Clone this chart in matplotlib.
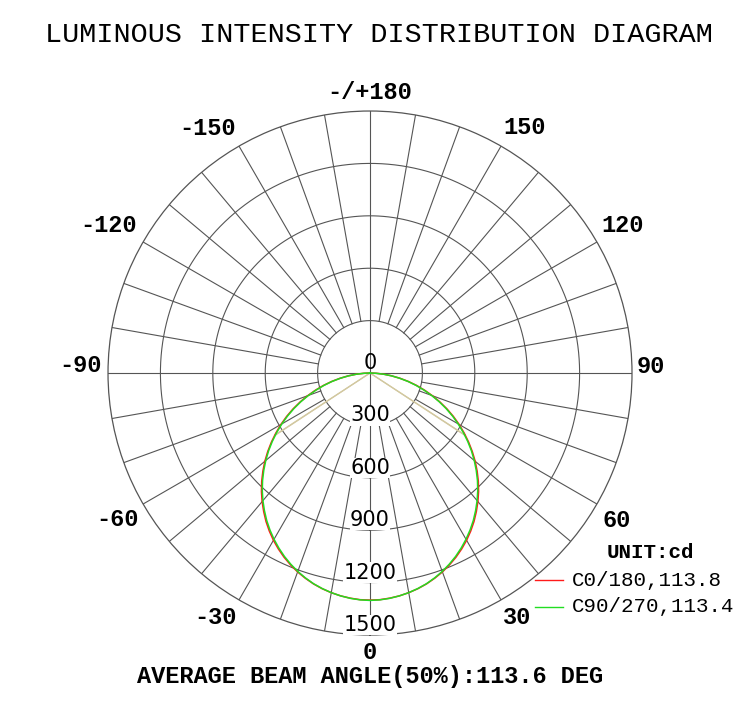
import numpy as np
import matplotlib
matplotlib.use('Agg')
import matplotlib.pyplot as plt
from matplotlib.lines import Line2D

# intensity (cd) vs gamma angle (deg), curves are symmetric about 0
gamma = [0, 2.5, 5, 7.5, 10, 12.5, 15, 17.5, 20, 22.5, 25, 27.5, 30, 32.5, 35, 37.5,
         40, 42.5, 45, 47.5, 50, 52.5, 55, 57.5, 60, 62.5, 65, 67.5, 70, 72.5, 75,
         77.5, 80, 82.5, 85, 87.5, 90]
c0_180 = [1300, 1299, 1294, 1287, 1277, 1265, 1250, 1232, 1212, 1189, 1164, 1136, 1106,
          1073, 1038, 1000, 961, 920, 877, 832, 786, 738, 689, 639, 589, 538, 486, 433,
          380, 328, 277, 226, 175, 126, 80, 35, 0]
c90_270 = [1302, 1300, 1295, 1287, 1277, 1264, 1249, 1230, 1209, 1185, 1159, 1130, 1099,
           1066, 1031, 993, 954, 913, 870, 825, 779, 732, 683, 633, 583, 532, 480, 428,
           375, 323, 272, 222, 172, 124, 78, 34, 0]
beam_angles = [113.8, 113.4]
series_names = ["C0/180", "C90/270"]
series_colors = ["#ff1a1a", "#22dd22"]
avg_beam = 113.6

ring_values = [300, 600, 900, 1200, 1500]
angle_labels = ["0", "30", "60", "90", "120", "150", "-/+180",
                "-150", "-120", "-90", "-60", "-30"]
# label placement (deg, radius in px from centre)
label_pos = [(0, 279), (31.1, 285), (59.1, 287), (91.4, 281), (120.3, 293), (147.7, 290),
             (180, 281), (-146.4, 294), (-119.5, 300), (-91.4, 290), (-59.8, 292), (-32.4, 289)]

mono = "Liberation Mono"
grid_col = "#555555"
R_PX = 262.0

fig = plt.figure(figsize=(7.5, 7.08), dpi=100)
ax = fig.add_axes([0.144, 0.1031, 0.6987, 0.7401], projection='polar')
ax.set_theta_zero_location('S')
ax.set_theta_direction(1)
ax.set_ylim(0, 1500)
ax.grid(False)
ax.set_xticks([])
ax.set_yticks([])
ax.spines['polar'].set_color(grid_col)
ax.spines['polar'].set_linewidth(0.9)

# rings
tt = np.linspace(0, 2 * np.pi, 400)
for r in ring_values[:-1]:
    ax.plot(tt, np.full_like(tt, r), color=grid_col, lw=0.8, zorder=1)

# spokes every 10 deg, the four main ones go through the centre
for a in range(0, 360, 10):
    r0 = 0 if a % 90 == 0 else ring_values[0]
    ax.plot([np.radians(a)] * 2, [r0, 1500], color=grid_col, lw=0.8, zorder=1)

# half-beam lines
g = np.array(gamma)
for ba, vals in zip(beam_angles, [c0_180, c90_270]):
    rr = np.interp(ba / 2, g, vals)
    for s in (-1, 1):
        ax.plot([0, np.radians(s * ba / 2)], [0, rr], color="#d2c8a0", lw=0.9, zorder=2)

# curves (mirror onto the negative side)
theta_full = np.radians(np.concatenate([-g[::-1], g[1:]]))
for vals, col in zip([c0_180, c90_270], series_colors):
    v = np.array(vals)
    ax.plot(theta_full, np.concatenate([v[::-1], v[1:]]), color=col, lw=1.1, zorder=3)

# radial value labels
ax.text(0, 0, "0", ha='center', va='bottom', fontsize=15, zorder=5)
for r in ring_values:
    ax.text(0, r, str(r), ha='center', va='bottom', fontsize=15, zorder=5,
            bbox=dict(facecolor='white', edgecolor='none', pad=0.2))

# angle labels
for lab, (a, rp) in zip(angle_labels, label_pos):
    ax.text(np.radians(a), rp * 1500 / R_PX, lab, ha='center', va='center',
            fontsize=17, fontweight='bold', family=mono, clip_on=False)

fig.text(379 / 750, 1 - 35 / 708, "LUMINOUS INTENSITY DISTRIBUTION DIAGRAM",
         ha='center', va='center', fontsize=20.5, family=mono)
fig.text(370 / 750, 1 - 676 / 708, "AVERAGE BEAM ANGLE(50%%):%.1f DEG" % avg_beam,
         ha='center', va='center', fontsize=17, fontweight='bold', family=mono)

# legend
fig.text(607 / 750, 1 - 552 / 708, "UNIT:cd", ha='left', va='center',
         fontsize=15, fontweight='bold', family=mono)
for i, (name, ba, col) in enumerate(zip(series_names, beam_angles, series_colors)):
    y = 1 - (580 + 27 * i) / 708
    fig.add_artist(Line2D([535 / 750, 563 / 750], [y, y], color=col, lw=1.0,
                          transform=fig.transFigure))
    fig.text(572 / 750, y, "%s,%.1f" % (name, ba), ha='left', va='center',
             fontsize=15, family=mono)

fig.savefig('out.png', dpi=100, facecolor='white')
